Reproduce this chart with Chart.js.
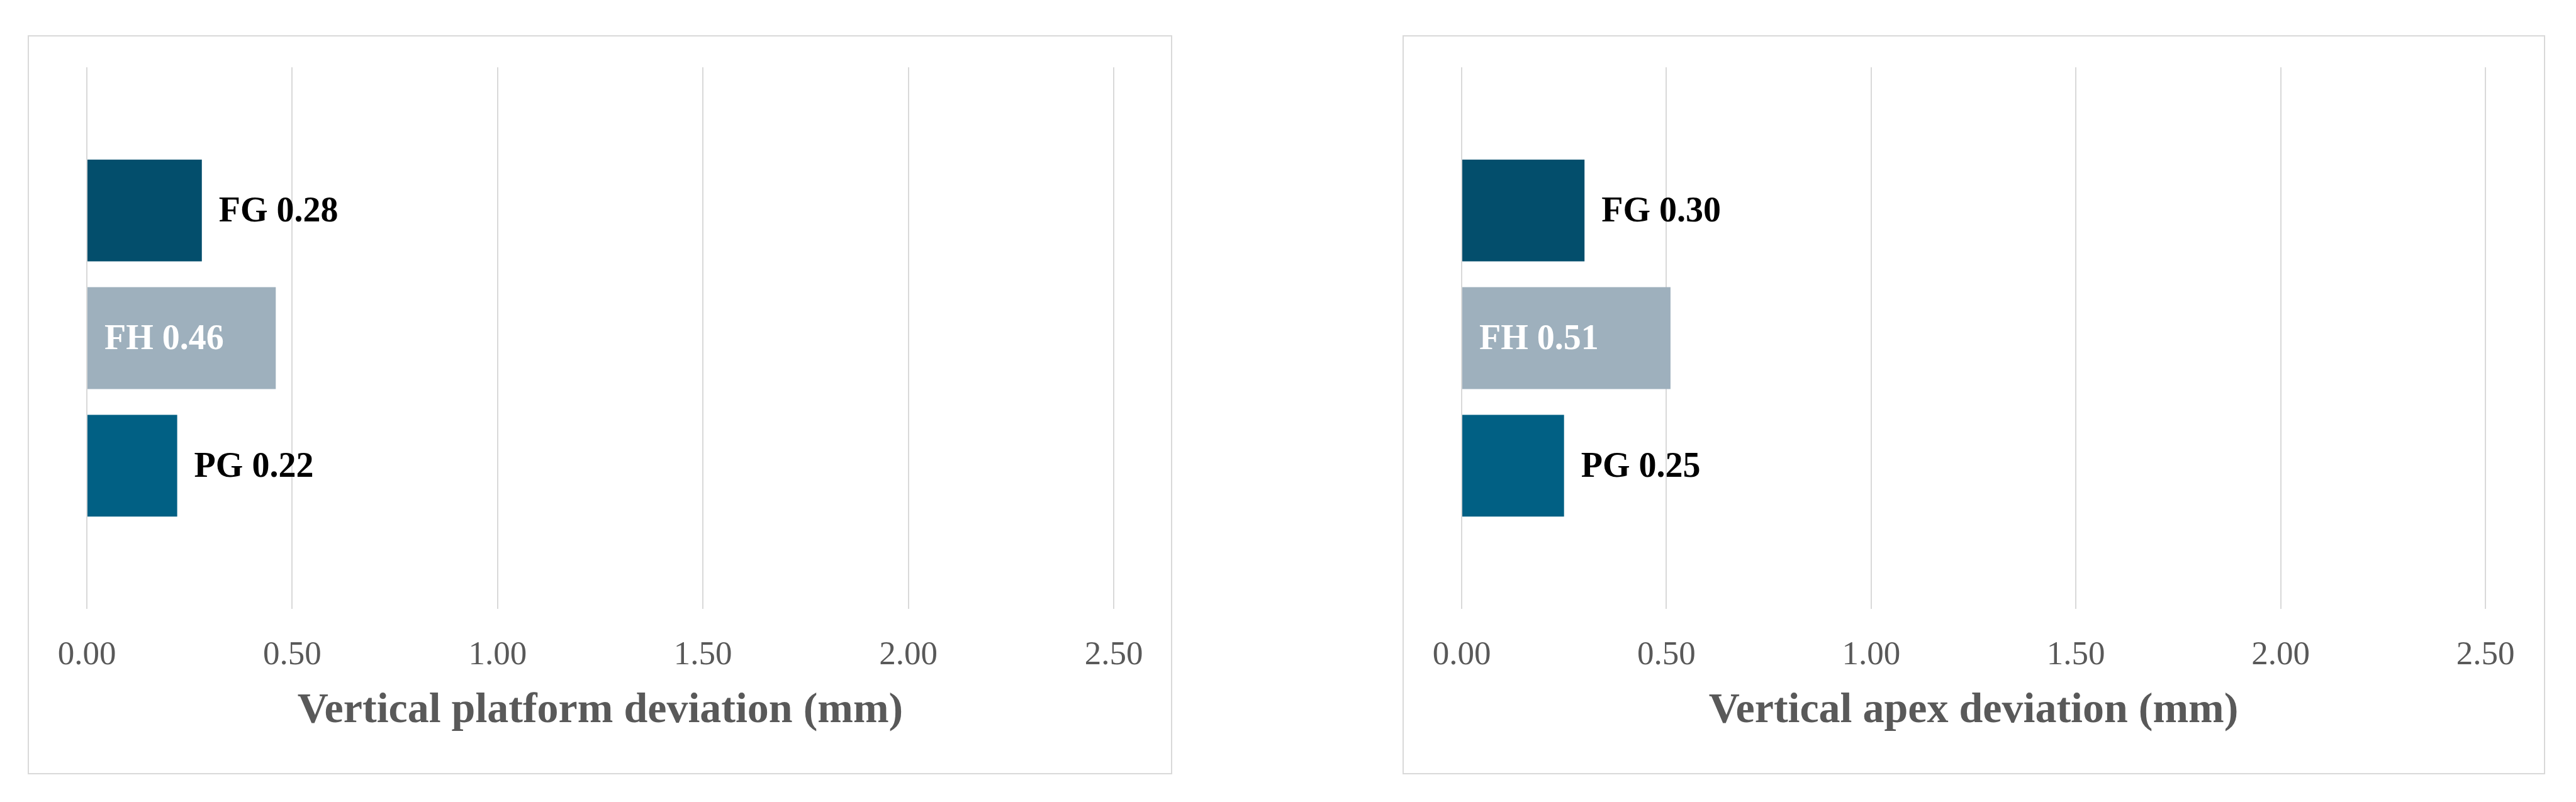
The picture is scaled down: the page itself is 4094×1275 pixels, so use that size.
<!DOCTYPE html>
<html>
<head>
<meta charset="utf-8">
<script src="https://cdn.jsdelivr.net/npm/chart.js@4.4.0/dist/chart.umd.min.js"></script>
<style>
  html, body { margin: 0; padding: 0; background: #fff; }
  body { width: 4094px; height: 1275px; position: relative; overflow: hidden; }
  .panel { position: absolute; top: 56px; height: 1175px; border: 2px solid #d9d9d9; box-sizing: border-box; }
  #left { left: 44px; width: 1819px; }
  #right { left: 2229px; width: 1816px; }
  canvas { display: block; }
</style>
</head>
<body>
<div class="panel" id="left"><canvas id="platform" width="1815" height="1171"></canvas></div>
<div class="panel" id="right"><canvas id="apex" width="1812" height="1171"></canvas></div>
<script>
const groups = ['FG', 'FH', 'PG']
const platformValues = [0.28, 0.46, 0.22]
const apexValues = [0.30, 0.51, 0.25]
const xTicks = [0, 0.5, 1, 1.5, 2, 2.5]
const colors = ['#034e6c', '#9eb0bd', '#016084']

const FONT = '"Liberation Serif", "DejaVu Serif", serif'

// writes "FG 0.28" next to (or inside) each bar
const barLabels = {
  id: 'barLabels',
  afterDatasetsDraw(chart) {
    const ctx = chart.ctx
    ctx.save()
    ctx.font = 'bold 56px ' + FONT
    ctx.textBaseline = 'middle'
    ctx.textAlign = 'left'
    chart.data.datasets.forEach((ds, i) => {
      chart.getDatasetMeta(i).data.forEach((bar, j) => {
        const text = ds.label + ' ' + ds.data[j].toFixed(2)
        if (ds.inside) {
          ctx.fillStyle = '#ffffff'
          ctx.fillText(text, bar.base + 27, bar.y + 3)
        } else {
          ctx.fillStyle = '#000000'
          ctx.fillText(text, bar.x + 27, bar.y + 3)
        }
      })
    })
    ctx.restore()
  }
}

function makeChart(id, values, title, padRight) {
  new Chart(document.getElementById(id).getContext('2d'), {
    type: 'bar',
    data: {
      labels: [''],
      datasets: groups.map((g, i) => ({
        label: g,
        data: [values[i]],
        backgroundColor: colors[i],
        inside: i === 1,
        categoryPercentage: 0.707,
        barPercentage: 0.798
      }))
    },
    options: {
      indexAxis: 'y',
      responsive: false,
      animation: false,
      layout: { padding: { left: 92, top: 49, right: padRight, bottom: 0 } },
      plugins: { legend: { display: false }, tooltip: { enabled: false } },
      scales: {
        x: {
          min: 0,
          max: 2.5,
          afterBuildTicks: s => { s.ticks = xTicks.map(v => ({ value: v })) },
          afterFit: s => { s.height = 261 },
          grid: { color: '#d9d9d9', lineWidth: 2, drawTicks: false },
          border: { display: false },
          ticks: {
            padding: 42,
            color: '#595959',
            font: { family: FONT, size: 53 },
            callback: v => Number(v).toFixed(2)
          },
          title: {
            display: true,
            text: title,
            color: '#595959',
            font: { family: FONT, size: 68, weight: 'bold' },
            padding: { top: 20, bottom: 58 }
          }
        },
        y: {
          display: false,
          grid: { display: false }
        }
      }
    },
    plugins: [barLabels]
  })
}

makeChart('platform', platformValues, 'Vertical platform deviation (mm)', 91)
makeChart('apex', apexValues, 'Vertical apex deviation (mm)', 93)
</script>
</body>
</html>
